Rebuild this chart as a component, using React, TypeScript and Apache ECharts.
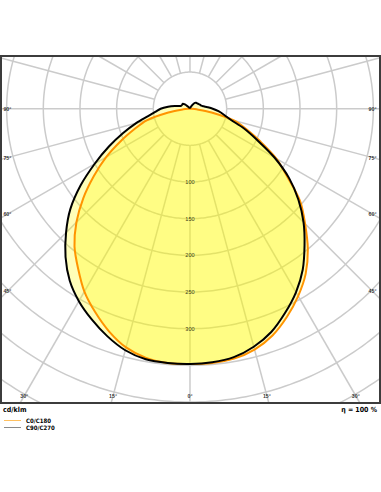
import React, { useEffect, useRef } from 'react';
import * as echarts from 'echarts';

// Polar angles (degrees from nadir) and luminous intensities (cd/klm)
const angles = [0, 5, 10, 15, 20, 25, 30, 35, 40, 45, 50, 55, 60, 65, 70, 75, 80, 85, 90, 95, 100, 105, 110, 115, 120, 125, 130, 135, 140, 145, 150, 155, 160, 165, 170, 175, 180];
const c0 = [348, 348, 346, 340, 329, 313, 295, 275, 250, 222, 196, 162, 136, 106, 82, 62, 30, 9, 2, 0, 0, 0, 0, 0, 0, 0, 0, 0, 0, 0, 0, 0, 0, 0, 0, 0, 0];
const c180 = [348, 348, 345, 337, 323, 306, 288, 266, 245, 219, 190, 160, 132, 104, 80, 61, 30, 9, 2, 0, 0, 0, 0, 0, 0, 0, 0, 0, 0, 0, 0, 0, 0, 0, 0, 0, 0];
const c90 = [348, 348, 347, 341, 330, 317, 303, 286, 264, 239, 213, 182, 150, 122, 97, 76, 58, 47, 40, 30, 21, 14, 12.5, 12, 12, 12, 9, 5, 2.5, 1.5, 1.5, 1.5, 1.5, 1.5, 1.5, 1.5, 1.5];
const c270 = [348, 347, 344, 336, 324, 307, 289, 268, 243, 219, 193, 165, 133, 101, 78, 57, 47, 39, 31, 24, 19, 16, 15, 14, 13, 12.5, 12, 11.5, 10.5, 8, 5, 3, 1.5, 1.5, 1.5, 1.5, 1.5];

const ringValues = [50, 100, 150, 200, 250, 300, 350, 400, 450, 500, 550];
const ringLabels = [100, 150, 200, 250, 300];
const radialAngles = [0, 15, 30, 45, 60, 75, 90, 105, 120, 135, 150, 165, 180, 195, 210, 225, 240, 255, 270, 285, 300, 315, 330, 345];
const bottomTicks = [-30, -15, 0, 15, 30];
const sideTicks = [45, 60, 75, 90];

const FONT = '"Liberation Sans", Arial, sans-serif';
const NARROW = '"Liberation Sans Narrow", "DejaVu Sans Condensed", "Liberation Sans", Arial, sans-serif';
const GRID_COLOR = '#cbcbcb';
const X_MIN = -257.7, X_MAX = 259.1, Y_MIN = -71.9, Y_MAX = 401.3;
const rad = (d: number) => (d * Math.PI) / 180;

function closedCurve(right: number[], left: number[]) {
  const pts: number[][] = angles.map((a, i) => [right[i] * Math.sin(rad(a)), right[i] * Math.cos(rad(a))]);
  for (let i = angles.length - 2; i >= 1; i--) {
    pts.push([-left[i] * Math.sin(rad(angles[i])), left[i] * Math.cos(rad(angles[i]))]);
  }
  return pts;
}

function circle(r: number) {
  const pts: number[][] = [];
  for (let a = 0; a <= 360; a += 1) pts.push([r * Math.sin(rad(a)), r * Math.cos(rad(a))]);
  return pts;
}

// Liang-Barsky segment clipping to the plot rectangle
function clipSeg(a: number[], b: number[]): number[][] | null {
  const dx = b[0] - a[0], dy = b[1] - a[1];
  let t0 = 0, t1 = 1;
  const p = [-dx, dx, -dy, dy];
  const q = [a[0] - X_MIN, X_MAX - a[0], a[1] - Y_MIN, Y_MAX - a[1]];
  for (let i = 0; i < 4; i++) {
    if (p[i] === 0) {
      if (q[i] < 0) return null;
    } else {
      const t = q[i] / p[i];
      if (p[i] < 0) { if (t > t1) return null; if (t > t0) t0 = t; }
      else { if (t < t0) return null; if (t < t1) t1 = t; }
    }
  }
  return [[a[0] + t0 * dx, a[1] + t0 * dy], [a[0] + t1 * dx, a[1] + t1 * dy]];
}

function clipPolyline(pts: number[][]) {
  const runs: number[][][] = [];
  let cur: number[][] | null = null;
  for (let i = 0; i < pts.length - 1; i++) {
    const s = clipSeg(pts[i], pts[i + 1]);
    if (!s) { cur = null; continue; }
    if (cur && Math.abs(cur[cur.length - 1][0] - s[0][0]) < 1e-9 && Math.abs(cur[cur.length - 1][1] - s[0][1]) < 1e-9) {
      cur.push(s[1]);
    } else {
      cur = [s[0], s[1]];
      runs.push(cur);
    }
    if (s[1][0] !== pts[i + 1][0] || s[1][1] !== pts[i + 1][1]) cur = null;
  }
  return runs;
}

function curveSeries(name: string, pts: number[][], stroke: string, z2: number) {
  return {
    type: 'custom',
    name,
    coordinateSystem: 'cartesian2d',
    silent: true,
    itemStyle: { color: stroke },
    data: [[0, 0]],
    renderItem: (_params: any, api: any) => {
      const p = pts.map((q) => api.coord(q));
      return {
        type: 'group',
        children: [
          { type: 'polygon', z2: 1, shape: { points: p, smooth: 0.3 }, style: { fill: 'rgba(255,252,0,0.28)', stroke: null } },
          { type: 'polygon', z2, shape: { points: p, smooth: 0.3 }, style: { fill: null, stroke, lineWidth: 2, lineJoin: 'round' } },
        ],
      };
    },
  };
}

export default function App() {
  const ref = useRef<HTMLDivElement>(null);
  useEffect(() => {
    document.body.style.margin = '0';
    const chart = echarts.init(ref.current!, null, { renderer: 'svg' });
    const fmt = (p: any) => p.value[2];
    const bottomY = 391.5;
    const sideX = 249;
    const angleLabelData = [
      ...bottomTicks.map((t) => [bottomY * Math.tan(rad(t)), bottomY, Math.abs(t) + '°']),
      ...sideTicks.flatMap((t) => [
        [-sideX, sideX / Math.tan(rad(t)), t + '°'],
        [sideX, sideX / Math.tan(rad(t)), t + '°'],
      ]),
    ];
    const gridPolylines: number[][][] = [
      ...ringValues.flatMap((r) => clipPolyline(circle(r))),
      ...radialAngles.flatMap((a) => clipPolyline([[50 * Math.sin(rad(a)), 50 * Math.cos(rad(a))], [800 * Math.sin(rad(a)), 800 * Math.cos(rad(a))]])),
    ];
    chart.setOption({
      animation: false,
      grid: { left: 1, top: 56, width: 379, height: 347, show: true, borderColor: '#3c3c3c', borderWidth: 2, backgroundColor: 'transparent', z: 10 },
      xAxis: { type: 'value', min: X_MIN, max: X_MAX, show: false },
      yAxis: { type: 'value', min: Y_MIN, max: Y_MAX, inverse: true, show: false },
      legend: {
        orient: 'vertical', left: 4, top: 417, itemWidth: 17, itemHeight: 1, itemGap: 0, padding: 0, selectedMode: false,
        textStyle: { fontSize: 6, color: '#000', fontFamily: NARROW, fontWeight: 'bold', lineHeight: 7 },
        data: [
          { name: 'C0/C180', icon: 'rect', itemStyle: { color: '#ffc060' } },
          { name: 'C90/C270', icon: 'rect', itemStyle: { color: '#8a8a8a' } },
        ],
      },
      graphic: [
        { type: 'text', left: 3, top: 406, style: { text: 'cd/klm', fontSize: 7, fontWeight: 'bold', fill: '#000', fontFamily: NARROW } },
        { type: 'text', right: 4, top: 406, style: { text: 'η = 100 %', fontSize: 7, fontWeight: 'bold', fill: '#000', fontFamily: NARROW } },
      ],
      series: [
        {
          type: 'custom', coordinateSystem: 'cartesian2d', silent: true, z: 1, data: [[0, 0]],
          renderItem: (_params: any, api: any) => ({
            type: 'group',
            children: gridPolylines.map((run) => ({
              type: 'polyline',
              shape: { points: run.map((q) => api.coord(q)) },
              style: { stroke: GRID_COLOR, lineWidth: 1.5, fill: null },
            })),
          }),
        },
        curveSeries('C0/C180', closedCurve(c0, c180), '#ff9400', 5),
        curveSeries('C90/C270', closedCurve(c270, c90), '#000000', 6),
        {
          type: 'scatter', silent: true, symbolSize: 1, itemStyle: { color: 'transparent' }, z: 5,
          data: ringLabels.map((v) => [0, v, String(v)]),
          label: { show: true, position: 'inside', fontSize: 5.6, color: '#000', textBorderWidth: 0, fontFamily: FONT, formatter: fmt },
        },
        {
          type: 'scatter', silent: true, symbolSize: 1, itemStyle: { color: 'transparent' }, z: 5,
          data: angleLabelData,
          label: { show: true, position: 'inside', fontSize: 5.3, fontWeight: 'bold', color: '#000', textBorderWidth: 0, fontFamily: FONT, formatter: fmt },
        },
      ],
    });
    return () => chart.dispose();
  }, []);
  return <div ref={ref} style={{ width: 381, height: 492 }} />;
}
